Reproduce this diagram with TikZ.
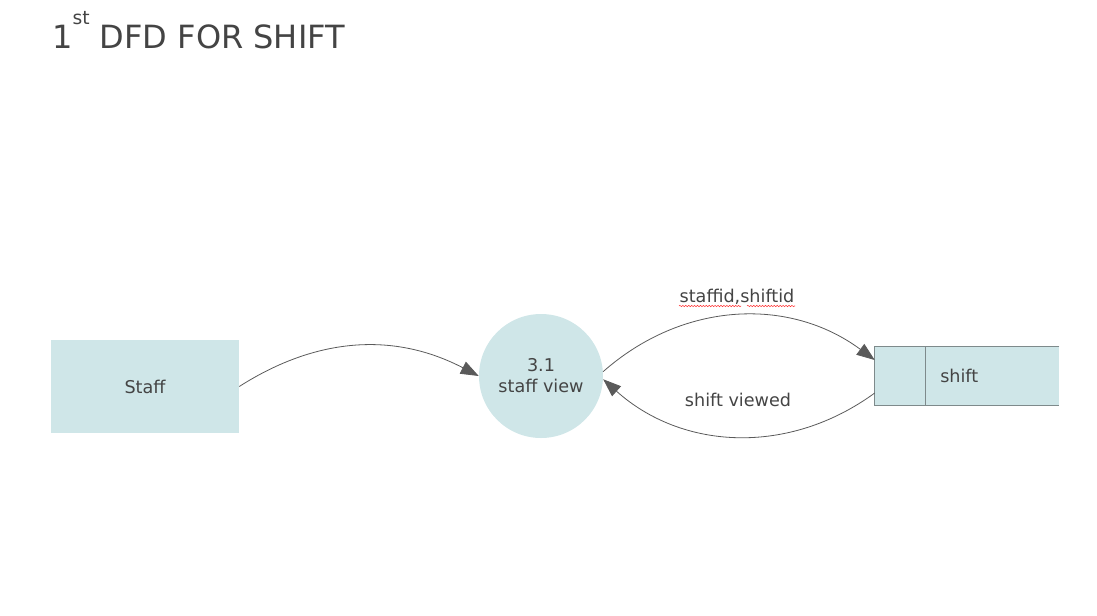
\documentclass[tikz,border=0pt]{standalone}
\usepackage{fontspec}
\setmainfont{DejaVu Sans}
\usepackage{tikz}
\usetikzlibrary{arrows.meta,decorations.pathmorphing}
\definecolor{dfdfill}{HTML}{CFE6E8}
\definecolor{dfdline}{HTML}{5A5A5A}
\definecolor{dfdedge}{HTML}{7E8A8B}
\definecolor{dfdtext}{HTML}{444444}

\begin{document}
\begin{tikzpicture}[x=0.75pt,y=0.75pt,yscale=-1,xscale=1,
  every node/.style={text=dfdtext,font=\fontsize{13.2}{15.75}\selectfont},
  flow/.style={draw=dfdline,line width=0.6pt,-{Triangle[length=13.5pt,width=10pt]}},
  spell/.style={draw=red!80,line width=0.4pt,decorate,decoration={snake,amplitude=0.5pt,segment length=2.2pt}}]
\useasboundingbox (0,0) rectangle (1097,615);

% Title
\node (title) at (52,30) [anchor=west][inner sep=0pt][font=\fontsize{24}{29}\selectfont] {1\raisebox{0.75em}{\fontsize{14}{17}\selectfont st} DFD FOR SHIFT};

%Shape: Rectangle - external entity
\node (staff) at (145,386.5) [fill=dfdfill,minimum width=141pt,minimum height=70pt,inner sep=0pt] {Staff};
%Shape: Circle - process
\node (view) at (541,376) [circle,fill=dfdfill,minimum size=93pt,inner sep=0pt,align=center] {3.1\\staff view};
%Shape: Data store
\node (store) at (967,376) [fill=dfdfill,minimum width=138pt,minimum height=43.5pt,inner sep=0pt] {};
\draw [dfdedge,line width=0.8pt] (store.north east) -- (store.north west) -- (store.south west) -- (store.south east) ;
\draw [dfdedge,line width=0.8pt] ([xshift=38pt]store.north west) -- ([xshift=38pt]store.south west) ;
\node (storename) at (940,376) [anchor=west][inner sep=0pt] {shift};

%Flows
\draw [flow] (staff.east) to [bend right=30] (view.west) ;
\draw [flow] (view.4) to [bend right=39] ([yshift=-12pt]store.west) ;
\draw [flow] ([yshift=12.75pt]store.west) to [bend right=39] (view.357) ;

% Text Node
\node (lblreq) at (737,297) [inner sep=0pt] {staffid,shiftid};
\draw [spell] (679,306) -- (741,306) ;
\draw [spell] (747,306) -- (795,306) ;
% Text Node
\node (lblres) at (738,400) [inner sep=0pt] {shift viewed};

\end{tikzpicture}
\end{document}
